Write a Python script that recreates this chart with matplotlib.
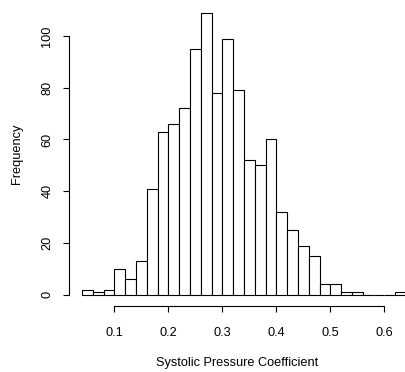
import matplotlib
matplotlib.use("Agg")
import matplotlib.pyplot as plt
import numpy as np

plt.rcParams['font.family'] = ['Liberation Sans', 'DejaVu Sans']

bin_start = 0.04
bin_width = 0.02
counts = [2, 1, 2, 10, 6, 13, 41, 63, 66, 72, 95, 109, 78, 99, 79, 52, 50, 60,
          32, 25, 19, 15, 4, 4, 1, 1, 0, 0, 0, 1]
x_ticks = [0.1, 0.2, 0.3, 0.4, 0.5, 0.6]
y_ticks = [0, 20, 40, 60, 80, 100]
x_label = "Systolic Pressure Coefficient"
y_label = "Frequency"

W, H = 406, 372
fig = plt.figure(figsize=(W / 100, H / 100), dpi=100)
left, right, top, bottom = 69, 406, 1.4, 306
ax = fig.add_axes([left / W, 1 - bottom / H, (right - left) / W, (bottom - top) / H])

edges = bin_start + bin_width * np.arange(len(counts))
ax.bar(edges, counts, width=bin_width, align='edge', facecolor='white',
       edgecolor='black', linewidth=0.8)

ax.set_xlim(0.016, 0.64)
ax.set_ylim(-4.36, 113.36)
for s in ['top', 'right']:
    ax.spines[s].set_visible(False)
ax.spines['left'].set_bounds(0, 100)
ax.spines['bottom'].set_bounds(0.1, 0.6)
for s in ['left', 'bottom']:
    ax.spines[s].set_linewidth(0.8)
ax.set_xticks(x_ticks)
ax.set_xticklabels([f"{v:g}" for v in x_ticks])
ax.set_yticks(y_ticks)
ax.set_yticklabels([str(v) for v in y_ticks], rotation=90, va='center')
ax.tick_params(axis='both', length=4.3, width=0.8, labelsize=9.2, color='black')
ax.tick_params(axis='x', pad=10.5)
ax.tick_params(axis='y', pad=7)
ax.set_xlabel(x_label, fontsize=9.2, labelpad=13)
ax.set_ylabel(y_label, fontsize=9.2, labelpad=13)

fig.savefig("out.png", dpi=100)
